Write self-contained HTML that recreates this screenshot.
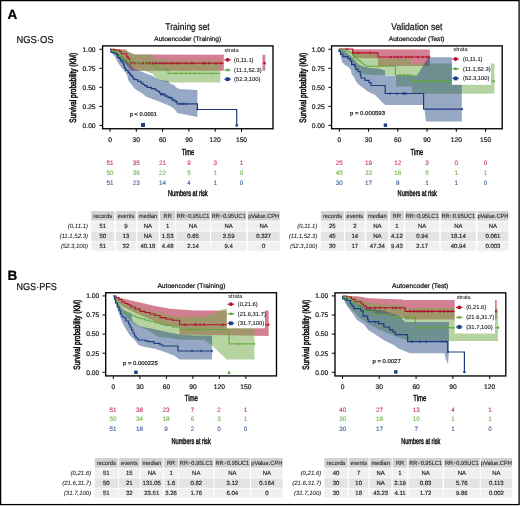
<!DOCTYPE html>
<html><head><meta charset="utf-8"><title>Kaplan-Meier figure</title>
<style>html,body{margin:0;padding:0;background:#fff;width:520px;height:506px;overflow:hidden}
svg text{font-family:"Liberation Sans", sans-serif;text-rendering:geometricPrecision}</style></head>
<body>
<svg width="520" height="506" viewBox="0 0 520 506" style="position:absolute;left:0;top:0;will-change:transform;font-family:'Liberation Sans', sans-serif">
<rect x="0" y="0" width="520" height="506" fill="#fff"/>
<text x="7.6" y="18.7" font-size="13.5" fill="#000" stroke="#000" stroke-width="0.22" text-anchor="start"  style="font-weight:bold">A</text>
<text x="16.5" y="43" font-size="10" fill="#111" stroke="#111" stroke-width="0.22" text-anchor="start" textLength="37" lengthAdjust="spacingAndGlyphs"  style="">NGS·OS</text>
<text x="7.6" y="279.8" font-size="13.5" fill="#000" stroke="#000" stroke-width="0.22" text-anchor="start"  style="font-weight:bold">B</text>
<text x="16.5" y="290" font-size="10" fill="#111" stroke="#111" stroke-width="0.22" text-anchor="start" textLength="40.3" lengthAdjust="spacingAndGlyphs"  style="">NGS·PFS</text>
<text x="187.5" y="29.9" font-size="9.7" fill="#111" stroke="#111" stroke-width="0.22" text-anchor="middle" textLength="44.3" lengthAdjust="spacingAndGlyphs"  style="">Training set</text>
<text x="154.3" y="41.2" font-size="6.5" fill="#111" stroke="#111" stroke-width="0.22" text-anchor="start" textLength="66.8" lengthAdjust="spacingAndGlyphs"  style="">Autoencoder (Training)</text>
<polygon points="110,49.3 126,49.5 128,52 135,54.6 265.3,54.7 265.3,70.8 131,70.8 129,68 125,63 120,57 115,52" fill="#A50123" fill-opacity="0.5"/>
<polygon points="110,49.3 118,49.5 125,50 127.4,51 131.2,53.8 135,54.6 152.8,54.7 152.8,59.5 168,59.5 168,61 220.3,61 220.3,82.6 168,82.6 158,79.7 155,76.8 153,74 145,71 137,70.8 135,68 130,66 126,64 122,61 118,57 114,53" fill="#6DA945" fill-opacity="0.5"/>
<polygon points="110,49.3 116.6,51.5 119.7,54.6 123.5,58.5 127.4,61.5 131.2,65.4 135,69.2 138.9,70.8 142.8,71.9 146.6,73.8 152,75.4 154,76.8 159,79.7 168,81 170,83.6 174,85 177,88 180,89 197.4,90 197.4,117 185,114.5 177,112.9 176,111 174,108.7 170,106 165,104 159,101.5 153,99.3 146.2,96.7 142,93.3 137.7,90.8 134.3,88.2 131.8,84.8 129.2,81.4 128.2,80 127.5,76.2 126,73.1 123,69.2 119.9,65.4 117.6,62.3 115.2,56.9 112.5,53.8" fill="#163E7A" fill-opacity="0.45"/>
<path d="M110,49.4 H115 V50 H119.7 V51.5 H121.2 V53.8 H126.6 V56.9 H128.2 V58.5 H129.7 V61.5 H132.8 V63.2 H265.5" fill="none" stroke="#B4102E" stroke-width="1.1" />
<path d="M110,49.4 H112 V50.8 H114.3 V52 H117.4 V53.1 H119 V54.5 H120.5 V56.2 H122.8 V58.5 H125.8 V60 H129.7 V61.5 H132.8 V63.2 H152.3 V65 H155 V66.8 H157 V69.2 H168 V73.4 H220.3" fill="none" stroke="#5FA83A" stroke-width="1.0" />
<path d="M110,49.4 H111 V52.3 H114 V53.5 H116.6 V54.6 H117.5 V57.7 H119.5 V59 H120.5 V60.8 H122 V62 H122.8 V63.1 H123.5 V65 H124.3 V66.9 H125 V68.5 H125.8 V70.4 H128.2 V72.3 H129.5 V73.8 H130.5 V75.4 H132 V77.2 H133.5 V79.2 H135.2 V79.7 H137.7 V81.4 H141.1 V83.1 H143 V84.5 H144.5 V85.7 H147.1 V87.4 H151.3 V88.6 H154.7 V89.1 H156 V90.5 H158.1 V91.6 H159.5 V93 H160.7 V94.2 H165 V96 H168 V97.6 H172 V100 H175 V101.5 H177 V103.9 H197.4 V109.5 H236.7 V125.6" fill="none" stroke="#1E3C82" stroke-width="1.2" />
<rect x="130.35" y="62.0" width="1.3" height="2.4" fill="#B4102E"/>
<rect x="134.35" y="62.0" width="1.3" height="2.4" fill="#B4102E"/>
<rect x="139.35" y="62.0" width="1.3" height="2.4" fill="#B4102E"/>
<rect x="142.35" y="62.0" width="1.3" height="2.4" fill="#B4102E"/>
<rect x="146.35" y="62.0" width="1.3" height="2.4" fill="#B4102E"/>
<rect x="149.35" y="62.0" width="1.3" height="2.4" fill="#B4102E"/>
<rect x="152.35" y="62.0" width="1.3" height="2.4" fill="#B4102E"/>
<rect x="155.35" y="62.0" width="1.3" height="2.4" fill="#B4102E"/>
<rect x="159.35" y="62.0" width="1.3" height="2.4" fill="#B4102E"/>
<rect x="162.35" y="62.0" width="1.3" height="2.4" fill="#B4102E"/>
<rect x="165.35" y="62.0" width="1.3" height="2.4" fill="#B4102E"/>
<rect x="169.35" y="62.0" width="1.3" height="2.4" fill="#B4102E"/>
<rect x="172.35" y="62.0" width="1.3" height="2.4" fill="#B4102E"/>
<rect x="176.35" y="62.0" width="1.3" height="2.4" fill="#B4102E"/>
<rect x="179.35" y="62.0" width="1.3" height="2.4" fill="#B4102E"/>
<rect x="185.35" y="62.0" width="1.3" height="2.4" fill="#B4102E"/>
<rect x="190.35" y="62.0" width="1.3" height="2.4" fill="#B4102E"/>
<rect x="192.35" y="62.0" width="1.3" height="2.4" fill="#B4102E"/>
<rect x="202.35" y="62.0" width="1.3" height="2.4" fill="#B4102E"/>
<rect x="204.35" y="62.0" width="1.3" height="2.4" fill="#B4102E"/>
<rect x="208.35" y="62.0" width="1.3" height="2.4" fill="#B4102E"/>
<rect x="215.35" y="62.0" width="1.3" height="2.4" fill="#B4102E"/>
<rect x="220.35" y="62.0" width="1.3" height="2.4" fill="#B4102E"/>
<rect x="264.35" y="62.0" width="1.3" height="2.4" fill="#B4102E"/>
<rect x="175.4" y="72.5" width="1.2" height="1.8" fill="#5FA83A"/>
<rect x="180.4" y="72.5" width="1.2" height="1.8" fill="#5FA83A"/>
<rect x="185.4" y="72.5" width="1.2" height="1.8" fill="#5FA83A"/>
<rect x="189.4" y="72.5" width="1.2" height="1.8" fill="#5FA83A"/>
<rect x="194.4" y="72.5" width="1.2" height="1.8" fill="#5FA83A"/>
<rect x="199.4" y="72.5" width="1.2" height="1.8" fill="#5FA83A"/>
<rect x="212.4" y="72.5" width="1.2" height="1.8" fill="#5FA83A"/>
<rect x="135.35" y="62.0" width="1.3" height="2.4" fill="#5FA83A"/>
<rect x="139.35" y="62.0" width="1.3" height="2.4" fill="#5FA83A"/>
<rect x="144.35" y="62.0" width="1.3" height="2.4" fill="#5FA83A"/>
<rect x="160.35" y="93.1" width="1.3" height="2.4" fill="#1E3C82"/>
<rect x="162.35" y="93.1" width="1.3" height="2.4" fill="#1E3C82"/>
<rect x="165.35" y="94.8" width="1.3" height="2.4" fill="#1E3C82"/>
<rect x="169.35" y="96.39999999999999" width="1.3" height="2.4" fill="#1E3C82"/>
<rect x="172.35" y="98.8" width="1.3" height="2.4" fill="#1E3C82"/>
<rect x="175.35" y="100.3" width="1.3" height="2.4" fill="#1E3C82"/>
<rect x="179.35" y="102.7" width="1.3" height="2.4" fill="#1E3C82"/>
<rect x="182.35" y="102.7" width="1.3" height="2.4" fill="#1E3C82"/>
<rect x="185.35" y="102.7" width="1.3" height="2.4" fill="#1E3C82"/>
<circle cx="236.7" cy="125.4" r="1.3" fill="#1E3C82"/><circle cx="197.4" cy="109.5" r="1.1" fill="#1E3C82"/>
<rect x="223.8" y="47" width="38.69999999999999" height="38" fill="#fff"/>
<text x="224.5" y="52.2" font-size="5.6" fill="#222" stroke="#222"  text-anchor="start" stroke-width="0.05" style="">strata</text>
<line x1="224.29999999999998" y1="59.8" x2="230.9" y2="59.8" stroke="#B4102E" stroke-width="1.1"/>
<circle cx="227.6" cy="59.8" r="1.9" fill="#B4102E"/>
<text x="234" y="61.8" font-size="5.8" fill="#111" stroke="#111"  text-anchor="start" stroke-width="0.1" style="">(0,11.1)</text>
<line x1="224.29999999999998" y1="69.9" x2="230.9" y2="69.9" stroke="#5FA83A" stroke-width="1.1"/>
<polygon points="225.6,71.2 229.6,71.2 227.6,67.9" fill="#5FA83A"/>
<text x="234" y="71.9" font-size="5.8" fill="#111" stroke="#111"  text-anchor="start" stroke-width="0.1" style="">(11.1,52.3)</text>
<line x1="224.29999999999998" y1="79.2" x2="230.9" y2="79.2" stroke="#1E3C82" stroke-width="1.1"/>
<rect x="225.7" y="77.3" width="3.8" height="3.8" fill="#1E3C82"/>
<text x="234" y="81.2" font-size="5.8" fill="#111" stroke="#111"  text-anchor="start" stroke-width="0.1" style="">(52.3,100)</text>
<rect x="141" y="123" width="4" height="4" fill="#1E3C82"/>
<text x="129.8" y="115.8" font-size="5.7" fill="#222" stroke="#222" stroke-width="0.22" text-anchor="start" textLength="27.1" lengthAdjust="spacingAndGlyphs"  style="">p &lt; 0.0001</text>
<rect x="102.6" y="45.9" width="170.4" height="82.85" fill="none" stroke="#000" stroke-width="1.35"/>
<line x1="110.0" y1="128.75" x2="110.0" y2="131.75" stroke="#000" stroke-width="1.0"/>
<text x="110.0" y="141.5" font-size="6.7" fill="#222" stroke="#222" stroke-width="0.22" text-anchor="middle"  style="">0</text>
<line x1="136.301" y1="128.75" x2="136.301" y2="131.75" stroke="#000" stroke-width="1.0"/>
<text x="136.301" y="141.5" font-size="6.7" fill="#222" stroke="#222" stroke-width="0.22" text-anchor="middle"  style="">30</text>
<line x1="162.602" y1="128.75" x2="162.602" y2="131.75" stroke="#000" stroke-width="1.0"/>
<text x="162.602" y="141.5" font-size="6.7" fill="#222" stroke="#222" stroke-width="0.22" text-anchor="middle"  style="">60</text>
<line x1="188.90300000000002" y1="128.75" x2="188.90300000000002" y2="131.75" stroke="#000" stroke-width="1.0"/>
<text x="188.90300000000002" y="141.5" font-size="6.7" fill="#222" stroke="#222" stroke-width="0.22" text-anchor="middle"  style="">90</text>
<line x1="215.204" y1="128.75" x2="215.204" y2="131.75" stroke="#000" stroke-width="1.0"/>
<text x="215.204" y="141.5" font-size="6.7" fill="#222" stroke="#222" stroke-width="0.22" text-anchor="middle"  style="">120</text>
<line x1="241.505" y1="128.75" x2="241.505" y2="131.75" stroke="#000" stroke-width="1.0"/>
<text x="241.505" y="141.5" font-size="6.7" fill="#222" stroke="#222" stroke-width="0.22" text-anchor="middle"  style="">150</text>
<line x1="99.39999999999999" y1="125.4" x2="102.6" y2="125.4" stroke="#000" stroke-width="1.0"/>
<text x="95.6" y="127.75" font-size="6.7" fill="#222" stroke="#222" stroke-width="0.22" text-anchor="end"  style="">0.00</text>
<line x1="99.39999999999999" y1="106.36250000000001" x2="102.6" y2="106.36250000000001" stroke="#000" stroke-width="1.0"/>
<text x="95.6" y="108.7125" font-size="6.7" fill="#222" stroke="#222" stroke-width="0.22" text-anchor="end"  style="">0.25</text>
<line x1="99.39999999999999" y1="87.325" x2="102.6" y2="87.325" stroke="#000" stroke-width="1.0"/>
<text x="95.6" y="89.675" font-size="6.7" fill="#222" stroke="#222" stroke-width="0.22" text-anchor="end"  style="">0.50</text>
<line x1="99.39999999999999" y1="68.2875" x2="102.6" y2="68.2875" stroke="#000" stroke-width="1.0"/>
<text x="95.6" y="70.63749999999999" font-size="6.7" fill="#222" stroke="#222" stroke-width="0.22" text-anchor="end"  style="">0.75</text>
<line x1="99.39999999999999" y1="49.25" x2="102.6" y2="49.25" stroke="#000" stroke-width="1.0"/>
<text x="95.6" y="51.6" font-size="6.7" fill="#222" stroke="#222" stroke-width="0.22" text-anchor="end"  style="">1.00</text>
<text transform="translate(75.6,87.7) rotate(-90)" x="0" y="0" font-size="9.2" fill="#111" stroke="#111" stroke-width="0.55" text-anchor="middle" textLength="69.9" lengthAdjust="spacingAndGlyphs">Survival probability (KM)</text>
<text x="181.7" y="154.8" font-size="8.8" fill="#111" stroke="#111"  text-anchor="start" textLength="12.5" lengthAdjust="spacingAndGlyphs" stroke-width="0.45" style="">Time</text>
<text x="110.0" y="165.2" font-size="6.3" fill="#C8395A" stroke="#C8395A"  text-anchor="middle" stroke-width="0.12" style="">51</text>
<text x="136.301" y="165.2" font-size="6.3" fill="#C8395A" stroke="#C8395A"  text-anchor="middle" stroke-width="0.12" style="">35</text>
<text x="162.602" y="165.2" font-size="6.3" fill="#C8395A" stroke="#C8395A"  text-anchor="middle" stroke-width="0.12" style="">21</text>
<text x="188.90300000000002" y="165.2" font-size="6.3" fill="#C8395A" stroke="#C8395A"  text-anchor="middle" stroke-width="0.12" style="">9</text>
<text x="215.204" y="165.2" font-size="6.3" fill="#C8395A" stroke="#C8395A"  text-anchor="middle" stroke-width="0.12" style="">3</text>
<text x="241.505" y="165.2" font-size="6.3" fill="#C8395A" stroke="#C8395A"  text-anchor="middle" stroke-width="0.12" style="">1</text>
<text x="110.0" y="174.9" font-size="6.3" fill="#72B552" stroke="#72B552"  text-anchor="middle" stroke-width="0.12" style="">50</text>
<text x="136.301" y="174.9" font-size="6.3" fill="#72B552" stroke="#72B552"  text-anchor="middle" stroke-width="0.12" style="">36</text>
<text x="162.602" y="174.9" font-size="6.3" fill="#72B552" stroke="#72B552"  text-anchor="middle" stroke-width="0.12" style="">22</text>
<text x="188.90300000000002" y="174.9" font-size="6.3" fill="#72B552" stroke="#72B552"  text-anchor="middle" stroke-width="0.12" style="">5</text>
<text x="215.204" y="174.9" font-size="6.3" fill="#72B552" stroke="#72B552"  text-anchor="middle" stroke-width="0.12" style="">1</text>
<text x="241.505" y="174.9" font-size="6.3" fill="#72B552" stroke="#72B552"  text-anchor="middle" stroke-width="0.12" style="">0</text>
<text x="110.0" y="184.6" font-size="6.3" fill="#44639F" stroke="#44639F"  text-anchor="middle" stroke-width="0.12" style="">51</text>
<text x="136.301" y="184.6" font-size="6.3" fill="#44639F" stroke="#44639F"  text-anchor="middle" stroke-width="0.12" style="">23</text>
<text x="162.602" y="184.6" font-size="6.3" fill="#44639F" stroke="#44639F"  text-anchor="middle" stroke-width="0.12" style="">14</text>
<text x="188.90300000000002" y="184.6" font-size="6.3" fill="#44639F" stroke="#44639F"  text-anchor="middle" stroke-width="0.12" style="">4</text>
<text x="215.204" y="184.6" font-size="6.3" fill="#44639F" stroke="#44639F"  text-anchor="middle" stroke-width="0.12" style="">1</text>
<text x="241.505" y="184.6" font-size="6.3" fill="#44639F" stroke="#44639F"  text-anchor="middle" stroke-width="0.12" style="">0</text>
<text x="168" y="196.2" font-size="8.4" fill="#111" stroke="#111"  text-anchor="start" textLength="39.7" lengthAdjust="spacingAndGlyphs" stroke-width="0.45" style="">Numbers at risk</text>
<rect x="91.2" y="211.1" width="23.099999999999994" height="9.5" fill="#D2D2D2"/>
<text x="102.75" y="217.79999999999998" font-size="6.0" fill="#1a1a1a" stroke="#1a1a1a"  text-anchor="middle" textLength="18.84" lengthAdjust="spacingAndGlyphs" stroke-width="0.08" style="">records</text>
<rect x="115.8" y="211.1" width="20.299999999999997" height="9.5" fill="#D2D2D2"/>
<text x="125.94999999999999" y="217.79999999999998" font-size="6.0" fill="#1a1a1a" stroke="#1a1a1a"  text-anchor="middle" textLength="16.65" lengthAdjust="spacingAndGlyphs" stroke-width="0.08" style="">events</text>
<rect x="137.3" y="211.1" width="21.299999999999983" height="9.5" fill="#D2D2D2"/>
<text x="147.95" y="217.79999999999998" font-size="6.0" fill="#1a1a1a" stroke="#1a1a1a"  text-anchor="middle" textLength="18.53" lengthAdjust="spacingAndGlyphs" stroke-width="0.08" style="">median</text>
<rect x="160" y="211.1" width="15.300000000000011" height="9.5" fill="#D2D2D2"/>
<text x="167.65" y="217.79999999999998" font-size="6.0" fill="#1a1a1a" stroke="#1a1a1a"  text-anchor="middle" textLength="8.16" lengthAdjust="spacingAndGlyphs" stroke-width="0.08" style="">RR</text>
<rect x="176.2" y="211.1" width="33.80000000000001" height="9.5" fill="#D2D2D2"/>
<text x="193.1" y="217.79999999999998" font-size="6.0" fill="#1a1a1a" stroke="#1a1a1a"  text-anchor="middle" textLength="32.82" lengthAdjust="spacingAndGlyphs" stroke-width="0.08" style="">RR−0.95LC1</text>
<rect x="211.1" y="211.1" width="35.099999999999994" height="9.5" fill="#D2D2D2"/>
<text x="228.64999999999998" y="217.79999999999998" font-size="6.0" fill="#1a1a1a" stroke="#1a1a1a"  text-anchor="middle" textLength="33.76" lengthAdjust="spacingAndGlyphs" stroke-width="0.08" style="">RR−0.95UC1</text>
<rect x="247.7" y="211.1" width="32.0" height="9.5" fill="#D2D2D2"/>
<text x="263.7" y="217.79999999999998" font-size="6.0" fill="#1a1a1a" stroke="#1a1a1a"  text-anchor="middle" textLength="31.09" lengthAdjust="spacingAndGlyphs" stroke-width="0.08" style="">pValue.CPH</text>
<rect x="91.2" y="221.4" width="23.099999999999994" height="9.400000000000006" fill="#F0F0F0"/>
<text x="102.75" y="227.9" font-size="6.0" fill="#1a1a1a" stroke="#1a1a1a"  text-anchor="middle" stroke-width="0.15" style="">51</text>
<rect x="115.8" y="221.4" width="20.299999999999997" height="9.400000000000006" fill="#F0F0F0"/>
<text x="125.94999999999999" y="227.9" font-size="6.0" fill="#1a1a1a" stroke="#1a1a1a"  text-anchor="middle" stroke-width="0.15" style="">9</text>
<rect x="137.3" y="221.4" width="21.299999999999983" height="9.400000000000006" fill="#F0F0F0"/>
<text x="147.95" y="227.9" font-size="6.0" fill="#1a1a1a" stroke="#1a1a1a"  text-anchor="middle" stroke-width="0.15" style="">NA</text>
<rect x="160" y="221.4" width="15.300000000000011" height="9.400000000000006" fill="#F0F0F0"/>
<text x="167.65" y="227.9" font-size="6.0" fill="#1a1a1a" stroke="#1a1a1a"  text-anchor="middle" stroke-width="0.15" style="">1</text>
<rect x="176.2" y="221.4" width="33.80000000000001" height="9.400000000000006" fill="#F0F0F0"/>
<text x="193.1" y="227.9" font-size="6.0" fill="#1a1a1a" stroke="#1a1a1a"  text-anchor="middle" stroke-width="0.15" style="">NA</text>
<rect x="211.1" y="221.4" width="35.099999999999994" height="9.400000000000006" fill="#F0F0F0"/>
<text x="228.64999999999998" y="227.9" font-size="6.0" fill="#1a1a1a" stroke="#1a1a1a"  text-anchor="middle" stroke-width="0.15" style="">NA</text>
<rect x="247.7" y="221.4" width="32.0" height="9.400000000000006" fill="#F0F0F0"/>
<text x="263.7" y="227.9" font-size="6.0" fill="#1a1a1a" stroke="#1a1a1a"  text-anchor="middle" stroke-width="0.15" style="">NA</text>
<text x="88" y="227.9" font-size="6.0" fill="#1a1a1a" stroke="#1a1a1a"  text-anchor="end" stroke-width="0.05" style="font-style:italic">(0,11.1)</text>
<rect x="91.2" y="231.6" width="23.099999999999994" height="9.400000000000006" fill="#E3E3E3"/>
<text x="102.75" y="238.1" font-size="6.0" fill="#1a1a1a" stroke="#1a1a1a"  text-anchor="middle" stroke-width="0.15" style="">50</text>
<rect x="115.8" y="231.6" width="20.299999999999997" height="9.400000000000006" fill="#E3E3E3"/>
<text x="125.94999999999999" y="238.1" font-size="6.0" fill="#1a1a1a" stroke="#1a1a1a"  text-anchor="middle" stroke-width="0.15" style="">13</text>
<rect x="137.3" y="231.6" width="21.299999999999983" height="9.400000000000006" fill="#E3E3E3"/>
<text x="147.95" y="238.1" font-size="6.0" fill="#1a1a1a" stroke="#1a1a1a"  text-anchor="middle" stroke-width="0.15" style="">NA</text>
<rect x="160" y="231.6" width="15.300000000000011" height="9.400000000000006" fill="#E3E3E3"/>
<text x="167.65" y="238.1" font-size="6.0" fill="#1a1a1a" stroke="#1a1a1a"  text-anchor="middle" stroke-width="0.15" style="">1.53</text>
<rect x="176.2" y="231.6" width="33.80000000000001" height="9.400000000000006" fill="#E3E3E3"/>
<text x="193.1" y="238.1" font-size="6.0" fill="#1a1a1a" stroke="#1a1a1a"  text-anchor="middle" stroke-width="0.15" style="">0.65</text>
<rect x="211.1" y="231.6" width="35.099999999999994" height="9.400000000000006" fill="#E3E3E3"/>
<text x="228.64999999999998" y="238.1" font-size="6.0" fill="#1a1a1a" stroke="#1a1a1a"  text-anchor="middle" stroke-width="0.15" style="">3.59</text>
<rect x="247.7" y="231.6" width="32.0" height="9.400000000000006" fill="#E3E3E3"/>
<text x="263.7" y="238.1" font-size="6.0" fill="#1a1a1a" stroke="#1a1a1a"  text-anchor="middle" stroke-width="0.15" style="">0.327</text>
<text x="88" y="238.1" font-size="6.0" fill="#1a1a1a" stroke="#1a1a1a"  text-anchor="end" stroke-width="0.05" style="font-style:italic">(11.1,52.3)</text>
<rect x="91.2" y="241.6" width="23.099999999999994" height="9.300000000000011" fill="#F0F0F0"/>
<text x="102.75" y="248.0" font-size="6.0" fill="#1a1a1a" stroke="#1a1a1a"  text-anchor="middle" stroke-width="0.15" style="">51</text>
<rect x="115.8" y="241.6" width="20.299999999999997" height="9.300000000000011" fill="#F0F0F0"/>
<text x="125.94999999999999" y="248.0" font-size="6.0" fill="#1a1a1a" stroke="#1a1a1a"  text-anchor="middle" stroke-width="0.15" style="">32</text>
<rect x="137.3" y="241.6" width="21.299999999999983" height="9.300000000000011" fill="#F0F0F0"/>
<text x="147.95" y="248.0" font-size="6.0" fill="#1a1a1a" stroke="#1a1a1a"  text-anchor="middle" stroke-width="0.15" style="">40.18</text>
<rect x="160" y="241.6" width="15.300000000000011" height="9.300000000000011" fill="#F0F0F0"/>
<text x="167.65" y="248.0" font-size="6.0" fill="#1a1a1a" stroke="#1a1a1a"  text-anchor="middle" stroke-width="0.15" style="">4.48</text>
<rect x="176.2" y="241.6" width="33.80000000000001" height="9.300000000000011" fill="#F0F0F0"/>
<text x="193.1" y="248.0" font-size="6.0" fill="#1a1a1a" stroke="#1a1a1a"  text-anchor="middle" stroke-width="0.15" style="">2.14</text>
<rect x="211.1" y="241.6" width="35.099999999999994" height="9.300000000000011" fill="#F0F0F0"/>
<text x="228.64999999999998" y="248.0" font-size="6.0" fill="#1a1a1a" stroke="#1a1a1a"  text-anchor="middle" stroke-width="0.15" style="">9.4</text>
<rect x="247.7" y="241.6" width="32.0" height="9.300000000000011" fill="#F0F0F0"/>
<text x="263.7" y="248.0" font-size="6.0" fill="#1a1a1a" stroke="#1a1a1a"  text-anchor="middle" stroke-width="0.15" style="">0</text>
<text x="88" y="248.0" font-size="6.0" fill="#1a1a1a" stroke="#1a1a1a"  text-anchor="end" stroke-width="0.05" style="font-style:italic">(52.3,100)</text>
<text x="416.9" y="29.9" font-size="9.7" fill="#111" stroke="#111" stroke-width="0.22" text-anchor="middle" textLength="51.2" lengthAdjust="spacingAndGlyphs"  style="">Validation set</text>
<text x="388.75" y="41.2" font-size="6.5" fill="#111" stroke="#111" stroke-width="0.22" text-anchor="start" textLength="55.7" lengthAdjust="spacingAndGlyphs"  style="">Autoencoder (Test)</text>
<polygon points="339,49.2 352.7,49.2 429.8,49.5 429.8,65.9 378,65.9 378,58.2 352.7,58.2 352.7,50 339,49.6" fill="#A50123" fill-opacity="0.5"/>
<polygon points="339,49.2 345,49.5 349,50 355,50.5 357,53.5 378,54 380,58.4 411,58.4 411,63.6 494.4,63.6 494.4,93.7 412,93.7 412,86.6 396,86.6 396,75.1 385,75.1 370,74.8 362,74 358,71.7 356,69.3 355,67 352,64.6 350.4,61 348,58.6 343,56.6 341,52" fill="#6DA945" fill-opacity="0.5"/>
<polygon points="339,49.2 341,49.5 344,51 347,53 350.8,55.9 355,60.5 358.7,64.6 363,66.5 370,68 378,68.5 385,70.5 385,75.5 417,75.5 428.4,57.2 461.8,57.2 461.8,121.4 426,121.4 424,105 385,105 377.5,97.5 375,95 367.5,91.25 362,87 357.9,84 355.6,80.4 354,77.2 351.6,74 350.8,70.1 349.2,67.7 345.3,65.3 342.1,62.2 340.5,55.9" fill="#163E7A" fill-opacity="0.45"/>
<path d="M339,49 H352.7 V52.9 H378 V57 H429.8" fill="none" stroke="#B4102E" stroke-width="1.1" />
<path d="M339,49.1 H342 V50 H345.3 V51.1 H348.4 V52 H350.4 V53.1 H352.4 V55.1 H354.8 V57.4 H356.3 V59.4 H358.7 V61 H361.1 V63 H363.5 V64.9 H365.8 V66.2 H395.5 V75.2 H412 V81.2 H494" fill="none" stroke="#5FA83A" stroke-width="1.0" />
<path d="M339,49.1 V51.5 H340.5 V54.3 H342.9 V56.6 H348 V58.6 H350.4 V61 H351.6 V64.6 H354.8 V66.9 H355.6 V69.3 H357.9 V71.7 H360.3 V75.2 H361.1 V78 H365 V80.4 H369 V82.7 H371 V85.5 H385.2 V93.5 H423.6 V109.2 H462" fill="none" stroke="#1E3C82" stroke-width="1.2" />
<rect x="390.35" y="55.8" width="1.3" height="2.4" fill="#B4102E"/>
<rect x="394.35" y="55.8" width="1.3" height="2.4" fill="#B4102E"/>
<rect x="397.35" y="55.8" width="1.3" height="2.4" fill="#B4102E"/>
<rect x="400.35" y="55.8" width="1.3" height="2.4" fill="#B4102E"/>
<rect x="405.35" y="55.8" width="1.3" height="2.4" fill="#B4102E"/>
<rect x="408.35" y="55.8" width="1.3" height="2.4" fill="#B4102E"/>
<rect x="411.35" y="55.8" width="1.3" height="2.4" fill="#B4102E"/>
<rect x="417.35" y="55.8" width="1.3" height="2.4" fill="#B4102E"/>
<rect x="422.35" y="55.8" width="1.3" height="2.4" fill="#B4102E"/>
<rect x="426.35" y="55.8" width="1.3" height="2.4" fill="#B4102E"/>
<rect x="428.85" y="55.8" width="1.3" height="2.4" fill="#B4102E"/>
<rect x="346.35" y="47.8" width="1.3" height="2.4" fill="#B4102E"/>
<rect x="352.05" y="51.699999999999996" width="1.3" height="2.4" fill="#B4102E"/>
<rect x="357.35" y="51.699999999999996" width="1.3" height="2.4" fill="#B4102E"/>
<rect x="369.35" y="51.699999999999996" width="1.3" height="2.4" fill="#B4102E"/>
<rect x="414.35" y="80.0" width="1.3" height="2.4" fill="#5FA83A"/>
<rect x="419.35" y="80.0" width="1.3" height="2.4" fill="#5FA83A"/>
<rect x="424.35" y="80.0" width="1.3" height="2.4" fill="#5FA83A"/>
<rect x="429.35" y="80.0" width="1.3" height="2.4" fill="#5FA83A"/>
<rect x="434.35" y="80.0" width="1.3" height="2.4" fill="#5FA83A"/>
<rect x="439.35" y="80.0" width="1.3" height="2.4" fill="#5FA83A"/>
<rect x="444.35" y="80.0" width="1.3" height="2.4" fill="#5FA83A"/>
<rect x="449.35" y="80.0" width="1.3" height="2.4" fill="#5FA83A"/>
<rect x="493.35" y="80.0" width="1.3" height="2.4" fill="#5FA83A"/>
<rect x="399.35" y="74.0" width="1.3" height="2.4" fill="#5FA83A"/>
<rect x="403.35" y="74.0" width="1.3" height="2.4" fill="#5FA83A"/>
<rect x="407.35" y="74.0" width="1.3" height="2.4" fill="#5FA83A"/>
<rect x="389.35" y="92.3" width="1.3" height="2.4" fill="#1E3C82"/>
<rect x="396.35" y="92.3" width="1.3" height="2.4" fill="#1E3C82"/>
<rect x="402.35" y="92.3" width="1.3" height="2.4" fill="#1E3C82"/>
<rect x="403.85" y="92.3" width="1.3" height="2.4" fill="#1E3C82"/>
<rect x="405.35" y="92.3" width="1.3" height="2.4" fill="#1E3C82"/>
<circle cx="462" cy="109.2" r="1.1" fill="#1E3C82"/>
<rect x="451.9" y="47" width="39.10000000000002" height="37.8" fill="#fff"/>
<text x="453.5" y="51.1" font-size="5.6" fill="#222" stroke="#222"  text-anchor="start" stroke-width="0.05" style="">strata</text>
<line x1="452.3" y1="59" x2="458.90000000000003" y2="59" stroke="#B4102E" stroke-width="1.1"/>
<circle cx="455.6" cy="59" r="1.9" fill="#B4102E"/>
<text x="463" y="61.0" font-size="5.8" fill="#111" stroke="#111"  text-anchor="start" stroke-width="0.1" style="">(0,11.1)</text>
<line x1="452.3" y1="68.7" x2="458.90000000000003" y2="68.7" stroke="#5FA83A" stroke-width="1.1"/>
<polygon points="453.6,70.0 457.6,70.0 455.6,66.7" fill="#5FA83A"/>
<text x="463" y="70.7" font-size="5.8" fill="#111" stroke="#111"  text-anchor="start" stroke-width="0.1" style="">(11.1,52.3)</text>
<line x1="452.3" y1="78.4" x2="458.90000000000003" y2="78.4" stroke="#1E3C82" stroke-width="1.1"/>
<rect x="453.70000000000005" y="76.5" width="3.8" height="3.8" fill="#1E3C82"/>
<text x="463" y="80.4" font-size="5.8" fill="#111" stroke="#111"  text-anchor="start" stroke-width="0.1" style="">(52.3,100)</text>
<rect x="383.7" y="123.5" width="3.4" height="3.4" fill="#1E3C82"/>
<text x="350" y="115.2" font-size="5.7" fill="#222" stroke="#222" stroke-width="0.22" text-anchor="start" textLength="35" lengthAdjust="spacingAndGlyphs"  style="">p = 0.000593</text>
<rect x="331.6" y="45.9" width="170.59999999999997" height="82.85" fill="none" stroke="#000" stroke-width="1.35"/>
<line x1="339.3" y1="128.75" x2="339.3" y2="131.75" stroke="#000" stroke-width="1.0"/>
<text x="339.3" y="141.5" font-size="6.7" fill="#222" stroke="#222" stroke-width="0.22" text-anchor="middle"  style="">0</text>
<line x1="368.55" y1="128.75" x2="368.55" y2="131.75" stroke="#000" stroke-width="1.0"/>
<text x="368.55" y="141.5" font-size="6.7" fill="#222" stroke="#222" stroke-width="0.22" text-anchor="middle"  style="">30</text>
<line x1="397.8" y1="128.75" x2="397.8" y2="131.75" stroke="#000" stroke-width="1.0"/>
<text x="397.8" y="141.5" font-size="6.7" fill="#222" stroke="#222" stroke-width="0.22" text-anchor="middle"  style="">60</text>
<line x1="427.05" y1="128.75" x2="427.05" y2="131.75" stroke="#000" stroke-width="1.0"/>
<text x="427.05" y="141.5" font-size="6.7" fill="#222" stroke="#222" stroke-width="0.22" text-anchor="middle"  style="">90</text>
<line x1="456.3" y1="128.75" x2="456.3" y2="131.75" stroke="#000" stroke-width="1.0"/>
<text x="456.3" y="141.5" font-size="6.7" fill="#222" stroke="#222" stroke-width="0.22" text-anchor="middle"  style="">120</text>
<line x1="485.55" y1="128.75" x2="485.55" y2="131.75" stroke="#000" stroke-width="1.0"/>
<text x="485.55" y="141.5" font-size="6.7" fill="#222" stroke="#222" stroke-width="0.22" text-anchor="middle"  style="">150</text>
<line x1="328.40000000000003" y1="125.4" x2="331.6" y2="125.4" stroke="#000" stroke-width="1.0"/>
<text x="324.8" y="127.75" font-size="6.7" fill="#222" stroke="#222" stroke-width="0.22" text-anchor="end"  style="">0.00</text>
<line x1="328.40000000000003" y1="106.36250000000001" x2="331.6" y2="106.36250000000001" stroke="#000" stroke-width="1.0"/>
<text x="324.8" y="108.7125" font-size="6.7" fill="#222" stroke="#222" stroke-width="0.22" text-anchor="end"  style="">0.25</text>
<line x1="328.40000000000003" y1="87.325" x2="331.6" y2="87.325" stroke="#000" stroke-width="1.0"/>
<text x="324.8" y="89.675" font-size="6.7" fill="#222" stroke="#222" stroke-width="0.22" text-anchor="end"  style="">0.50</text>
<line x1="328.40000000000003" y1="68.2875" x2="331.6" y2="68.2875" stroke="#000" stroke-width="1.0"/>
<text x="324.8" y="70.63749999999999" font-size="6.7" fill="#222" stroke="#222" stroke-width="0.22" text-anchor="end"  style="">0.75</text>
<line x1="328.40000000000003" y1="49.25" x2="331.6" y2="49.25" stroke="#000" stroke-width="1.0"/>
<text x="324.8" y="51.6" font-size="6.7" fill="#222" stroke="#222" stroke-width="0.22" text-anchor="end"  style="">1.00</text>
<text transform="translate(305.8,87.7) rotate(-90)" x="0" y="0" font-size="9.2" fill="#111" stroke="#111" stroke-width="0.55" text-anchor="middle" textLength="69.9" lengthAdjust="spacingAndGlyphs">Survival probability (KM)</text>
<text x="410.6" y="154.8" font-size="8.8" fill="#111" stroke="#111"  text-anchor="start" textLength="12.5" lengthAdjust="spacingAndGlyphs" stroke-width="0.45" style="">Time</text>
<text x="339.3" y="165.2" font-size="6.3" fill="#C8395A" stroke="#C8395A"  text-anchor="middle" stroke-width="0.12" style="">25</text>
<text x="368.55" y="165.2" font-size="6.3" fill="#C8395A" stroke="#C8395A"  text-anchor="middle" stroke-width="0.12" style="">19</text>
<text x="397.8" y="165.2" font-size="6.3" fill="#C8395A" stroke="#C8395A"  text-anchor="middle" stroke-width="0.12" style="">12</text>
<text x="427.05" y="165.2" font-size="6.3" fill="#C8395A" stroke="#C8395A"  text-anchor="middle" stroke-width="0.12" style="">3</text>
<text x="456.3" y="165.2" font-size="6.3" fill="#C8395A" stroke="#C8395A"  text-anchor="middle" stroke-width="0.12" style="">0</text>
<text x="485.55" y="165.2" font-size="6.3" fill="#C8395A" stroke="#C8395A"  text-anchor="middle" stroke-width="0.12" style="">0</text>
<text x="339.3" y="174.9" font-size="6.3" fill="#72B552" stroke="#72B552"  text-anchor="middle" stroke-width="0.12" style="">45</text>
<text x="368.55" y="174.9" font-size="6.3" fill="#72B552" stroke="#72B552"  text-anchor="middle" stroke-width="0.12" style="">33</text>
<text x="397.8" y="174.9" font-size="6.3" fill="#72B552" stroke="#72B552"  text-anchor="middle" stroke-width="0.12" style="">16</text>
<text x="427.05" y="174.9" font-size="6.3" fill="#72B552" stroke="#72B552"  text-anchor="middle" stroke-width="0.12" style="">5</text>
<text x="456.3" y="174.9" font-size="6.3" fill="#72B552" stroke="#72B552"  text-anchor="middle" stroke-width="0.12" style="">1</text>
<text x="485.55" y="174.9" font-size="6.3" fill="#72B552" stroke="#72B552"  text-anchor="middle" stroke-width="0.12" style="">1</text>
<text x="339.3" y="184.6" font-size="6.3" fill="#44639F" stroke="#44639F"  text-anchor="middle" stroke-width="0.12" style="">30</text>
<text x="368.55" y="184.6" font-size="6.3" fill="#44639F" stroke="#44639F"  text-anchor="middle" stroke-width="0.12" style="">17</text>
<text x="397.8" y="184.6" font-size="6.3" fill="#44639F" stroke="#44639F"  text-anchor="middle" stroke-width="0.12" style="">8</text>
<text x="427.05" y="184.6" font-size="6.3" fill="#44639F" stroke="#44639F"  text-anchor="middle" stroke-width="0.12" style="">1</text>
<text x="456.3" y="184.6" font-size="6.3" fill="#44639F" stroke="#44639F"  text-anchor="middle" stroke-width="0.12" style="">1</text>
<text x="485.55" y="184.6" font-size="6.3" fill="#44639F" stroke="#44639F"  text-anchor="middle" stroke-width="0.12" style="">0</text>
<text x="397.6" y="196.2" font-size="8.4" fill="#111" stroke="#111"  text-anchor="start" textLength="39.2" lengthAdjust="spacingAndGlyphs" stroke-width="0.45" style="">Numbers at risk</text>
<rect x="320.8" y="211.1" width="23.099999999999966" height="9.5" fill="#D2D2D2"/>
<text x="332.35" y="217.79999999999998" font-size="6.0" fill="#1a1a1a" stroke="#1a1a1a"  text-anchor="middle" textLength="18.84" lengthAdjust="spacingAndGlyphs" stroke-width="0.08" style="">records</text>
<rect x="345" y="211.1" width="19.69999999999999" height="9.5" fill="#D2D2D2"/>
<text x="354.85" y="217.79999999999998" font-size="6.0" fill="#1a1a1a" stroke="#1a1a1a"  text-anchor="middle" textLength="16.65" lengthAdjust="spacingAndGlyphs" stroke-width="0.08" style="">events</text>
<rect x="366.3" y="211.1" width="22.099999999999966" height="9.5" fill="#D2D2D2"/>
<text x="377.35" y="217.79999999999998" font-size="6.0" fill="#1a1a1a" stroke="#1a1a1a"  text-anchor="middle" textLength="18.53" lengthAdjust="spacingAndGlyphs" stroke-width="0.08" style="">median</text>
<rect x="390" y="211.1" width="13.899999999999977" height="9.5" fill="#D2D2D2"/>
<text x="396.95" y="217.79999999999998" font-size="6.0" fill="#1a1a1a" stroke="#1a1a1a"  text-anchor="middle" textLength="8.16" lengthAdjust="spacingAndGlyphs" stroke-width="0.08" style="">RR</text>
<rect x="405" y="211.1" width="34.30000000000001" height="9.5" fill="#D2D2D2"/>
<text x="422.15" y="217.79999999999998" font-size="6.0" fill="#1a1a1a" stroke="#1a1a1a"  text-anchor="middle" textLength="32.82" lengthAdjust="spacingAndGlyphs" stroke-width="0.08" style="">RR−0.95LC1</text>
<rect x="440.9" y="211.1" width="34.80000000000001" height="9.5" fill="#D2D2D2"/>
<text x="458.29999999999995" y="217.79999999999998" font-size="6.0" fill="#1a1a1a" stroke="#1a1a1a"  text-anchor="middle" textLength="33.76" lengthAdjust="spacingAndGlyphs" stroke-width="0.08" style="">RR−0.95UC1</text>
<rect x="477.4" y="211.1" width="31.100000000000023" height="9.5" fill="#D2D2D2"/>
<text x="492.95" y="217.79999999999998" font-size="6.0" fill="#1a1a1a" stroke="#1a1a1a"  text-anchor="middle" textLength="31.09" lengthAdjust="spacingAndGlyphs" stroke-width="0.08" style="">pValue.CPH</text>
<rect x="320.8" y="221.4" width="23.099999999999966" height="9.400000000000006" fill="#F0F0F0"/>
<text x="332.35" y="227.9" font-size="6.0" fill="#1a1a1a" stroke="#1a1a1a"  text-anchor="middle" stroke-width="0.15" style="">25</text>
<rect x="345" y="221.4" width="19.69999999999999" height="9.400000000000006" fill="#F0F0F0"/>
<text x="354.85" y="227.9" font-size="6.0" fill="#1a1a1a" stroke="#1a1a1a"  text-anchor="middle" stroke-width="0.15" style="">2</text>
<rect x="366.3" y="221.4" width="22.099999999999966" height="9.400000000000006" fill="#F0F0F0"/>
<text x="377.35" y="227.9" font-size="6.0" fill="#1a1a1a" stroke="#1a1a1a"  text-anchor="middle" stroke-width="0.15" style="">NA</text>
<rect x="390" y="221.4" width="13.899999999999977" height="9.400000000000006" fill="#F0F0F0"/>
<text x="396.95" y="227.9" font-size="6.0" fill="#1a1a1a" stroke="#1a1a1a"  text-anchor="middle" stroke-width="0.15" style="">1</text>
<rect x="405" y="221.4" width="34.30000000000001" height="9.400000000000006" fill="#F0F0F0"/>
<text x="422.15" y="227.9" font-size="6.0" fill="#1a1a1a" stroke="#1a1a1a"  text-anchor="middle" stroke-width="0.15" style="">NA</text>
<rect x="440.9" y="221.4" width="34.80000000000001" height="9.400000000000006" fill="#F0F0F0"/>
<text x="458.29999999999995" y="227.9" font-size="6.0" fill="#1a1a1a" stroke="#1a1a1a"  text-anchor="middle" stroke-width="0.15" style="">NA</text>
<rect x="477.4" y="221.4" width="31.100000000000023" height="9.400000000000006" fill="#F0F0F0"/>
<text x="492.95" y="227.9" font-size="6.0" fill="#1a1a1a" stroke="#1a1a1a"  text-anchor="middle" stroke-width="0.15" style="">NA</text>
<text x="317.4" y="227.9" font-size="6.0" fill="#1a1a1a" stroke="#1a1a1a"  text-anchor="end" stroke-width="0.05" style="font-style:italic">(0,11.1)</text>
<rect x="320.8" y="231.6" width="23.099999999999966" height="9.400000000000006" fill="#E3E3E3"/>
<text x="332.35" y="238.1" font-size="6.0" fill="#1a1a1a" stroke="#1a1a1a"  text-anchor="middle" stroke-width="0.15" style="">45</text>
<rect x="345" y="231.6" width="19.69999999999999" height="9.400000000000006" fill="#E3E3E3"/>
<text x="354.85" y="238.1" font-size="6.0" fill="#1a1a1a" stroke="#1a1a1a"  text-anchor="middle" stroke-width="0.15" style="">14</text>
<rect x="366.3" y="231.6" width="22.099999999999966" height="9.400000000000006" fill="#E3E3E3"/>
<text x="377.35" y="238.1" font-size="6.0" fill="#1a1a1a" stroke="#1a1a1a"  text-anchor="middle" stroke-width="0.15" style="">NA</text>
<rect x="390" y="231.6" width="13.899999999999977" height="9.400000000000006" fill="#E3E3E3"/>
<text x="396.95" y="238.1" font-size="6.0" fill="#1a1a1a" stroke="#1a1a1a"  text-anchor="middle" stroke-width="0.15" style="">4.12</text>
<rect x="405" y="231.6" width="34.30000000000001" height="9.400000000000006" fill="#E3E3E3"/>
<text x="422.15" y="238.1" font-size="6.0" fill="#1a1a1a" stroke="#1a1a1a"  text-anchor="middle" stroke-width="0.15" style="">0.94</text>
<rect x="440.9" y="231.6" width="34.80000000000001" height="9.400000000000006" fill="#E3E3E3"/>
<text x="458.29999999999995" y="238.1" font-size="6.0" fill="#1a1a1a" stroke="#1a1a1a"  text-anchor="middle" stroke-width="0.15" style="">18.14</text>
<rect x="477.4" y="231.6" width="31.100000000000023" height="9.400000000000006" fill="#E3E3E3"/>
<text x="492.95" y="238.1" font-size="6.0" fill="#1a1a1a" stroke="#1a1a1a"  text-anchor="middle" stroke-width="0.15" style="">0.061</text>
<text x="317.4" y="238.1" font-size="6.0" fill="#1a1a1a" stroke="#1a1a1a"  text-anchor="end" stroke-width="0.05" style="font-style:italic">(11.1,52.3)</text>
<rect x="320.8" y="241.6" width="23.099999999999966" height="9.300000000000011" fill="#F0F0F0"/>
<text x="332.35" y="248.0" font-size="6.0" fill="#1a1a1a" stroke="#1a1a1a"  text-anchor="middle" stroke-width="0.15" style="">30</text>
<rect x="345" y="241.6" width="19.69999999999999" height="9.300000000000011" fill="#F0F0F0"/>
<text x="354.85" y="248.0" font-size="6.0" fill="#1a1a1a" stroke="#1a1a1a"  text-anchor="middle" stroke-width="0.15" style="">17</text>
<rect x="366.3" y="241.6" width="22.099999999999966" height="9.300000000000011" fill="#F0F0F0"/>
<text x="377.35" y="248.0" font-size="6.0" fill="#1a1a1a" stroke="#1a1a1a"  text-anchor="middle" stroke-width="0.15" style="">47.34</text>
<rect x="390" y="241.6" width="13.899999999999977" height="9.300000000000011" fill="#F0F0F0"/>
<text x="396.95" y="248.0" font-size="6.0" fill="#1a1a1a" stroke="#1a1a1a"  text-anchor="middle" stroke-width="0.15" style="">9.43</text>
<rect x="405" y="241.6" width="34.30000000000001" height="9.300000000000011" fill="#F0F0F0"/>
<text x="422.15" y="248.0" font-size="6.0" fill="#1a1a1a" stroke="#1a1a1a"  text-anchor="middle" stroke-width="0.15" style="">2.17</text>
<rect x="440.9" y="241.6" width="34.80000000000001" height="9.300000000000011" fill="#F0F0F0"/>
<text x="458.29999999999995" y="248.0" font-size="6.0" fill="#1a1a1a" stroke="#1a1a1a"  text-anchor="middle" stroke-width="0.15" style="">40.94</text>
<rect x="477.4" y="241.6" width="31.100000000000023" height="9.300000000000011" fill="#F0F0F0"/>
<text x="492.95" y="248.0" font-size="6.0" fill="#1a1a1a" stroke="#1a1a1a"  text-anchor="middle" stroke-width="0.15" style="">0.003</text>
<text x="317.4" y="248.0" font-size="6.0" fill="#1a1a1a" stroke="#1a1a1a"  text-anchor="end" stroke-width="0.05" style="font-style:italic">(52.3,100)</text>
<text x="157.4" y="287.6" font-size="6.6" fill="#111" stroke="#111" stroke-width="0.22" text-anchor="start" textLength="68" lengthAdjust="spacingAndGlyphs"  style="">Autoencoder (Training)</text>
<polygon points="113.5,296 125,299 140,302.5 155,306 170,308.7 180,309.6 195,310.5 268.6,310.5 268.6,335.9 179.7,334.5 179.7,327 170,326 160,323.8 150,319 140,314.9 130,310.2 122,306 118,302" fill="#A50123" fill-opacity="0.5"/>
<polygon points="113.5,296 120,300 130,304.2 139.7,307.8 149.5,311.4 160.2,313.1 170,315.8 180,316.7 204.6,316.7 227.7,307.8 236,300 254.4,298 254.4,359.4 226.8,359.4 211.7,345.2 204.6,339.8 180,339.8 170,338 158.4,337 149.5,331 137,325.6 131.7,322 125,315 118,305" fill="#6DA945" fill-opacity="0.5"/>
<polygon points="113.5,296 116,299 119.2,304.2 122.8,309.6 128.1,312.2 131,313 132.5,321 137,324.7 140.6,326.5 149.5,328.3 158.4,330 170,332.7 179.7,334.5 195,335.4 212,335.4 212,359.4 195,359.6 179.7,359.4 174.4,355.8 165.5,352.3 154.8,348.7 145,347 138.8,345.2 134.4,339.8 129.9,335.4 126.4,330 122.8,323.8 120.1,316.7 117.5,309.6 115.7,304.2" fill="#163E7A" fill-opacity="0.45"/>
<path d="M113.5,296 H116 V297.5 H119 V299.5 H122 V302 H125 V303.5 H128 V305 H131 V307 H135 V309 H140 V311.4 H145 V312.5 H150 V314 H155 V315.5 H160 V317.6 H166 V319 H172 V320.2 H179.7 V324.7 H268.6" fill="none" stroke="#B4102E" stroke-width="1.1" />
<path d="M113.5,296 H114.5 V299 H116 V302 H117.5 V306 H119.5 V309 H121 V313 H125 V314 H129 V315 H133 V316.1 H136 V317.6 H140 V318.8 H145 V320.2 H150 V321.5 H155 V322.9 H160 V324.3 H165 V325.6 H172 V327 H179.7 V329.5 H229.1 V343.9 H254.4" fill="none" stroke="#5FA83A" stroke-width="1.0" />
<path d="M113.5,296 H114.5 V299 H115.5 V303 H117.5 V307 H119 V310.5 H120.5 V314 H122 V316.5 H124 V318 H126 V321 H128.5 V324 H130 V327 H131.5 V330 H133 V333 H134.5 V336 H136 V338 H137.9 V340 H145 V340.8 H148 V341.6 H154 V343.4 H160 V345 H163 V346 H178 V351 H212" fill="none" stroke="#1E3C82" stroke-width="1.2" />
<rect x="184.35" y="323.5" width="1.3" height="2.4" fill="#B4102E"/>
<rect x="194.35" y="323.5" width="1.3" height="2.4" fill="#B4102E"/>
<rect x="195.35" y="323.5" width="1.3" height="2.4" fill="#B4102E"/>
<rect x="199.35" y="323.5" width="1.3" height="2.4" fill="#B4102E"/>
<rect x="203.35" y="323.5" width="1.3" height="2.4" fill="#B4102E"/>
<rect x="222.35" y="323.5" width="1.3" height="2.4" fill="#B4102E"/>
<rect x="267.95000000000005" y="323.5" width="1.3" height="2.4" fill="#B4102E"/>
<rect x="189.35" y="328.3" width="1.3" height="2.4" fill="#5FA83A"/>
<rect x="194.35" y="328.3" width="1.3" height="2.4" fill="#5FA83A"/>
<rect x="203.35" y="328.3" width="1.3" height="2.4" fill="#5FA83A"/>
<rect x="237.35" y="342.7" width="1.3" height="2.4" fill="#5FA83A"/>
<rect x="253.75" y="342.7" width="1.3" height="2.4" fill="#5FA83A"/>
<rect x="191.35" y="349.8" width="1.3" height="2.4" fill="#1E3C82"/>
<rect x="200.35" y="349.8" width="1.3" height="2.4" fill="#1E3C82"/>
<rect x="211.35" y="349.8" width="1.3" height="2.4" fill="#1E3C82"/>
<polygon points="227.3,374 230.9,374 229.1,370.6" fill="#5FA83A"/>
<rect x="226.8" y="293" width="38.19999999999999" height="35.30000000000001" fill="#fff"/>
<text x="228.3" y="298" font-size="5.6" fill="#222" stroke="#222"  text-anchor="start" stroke-width="0.05" style="">strata</text>
<line x1="227.6" y1="304.2" x2="234.20000000000002" y2="304.2" stroke="#B4102E" stroke-width="1.1"/>
<circle cx="230.9" cy="304.2" r="1.9" fill="#B4102E"/>
<text x="237.8" y="306.2" font-size="5.8" fill="#111" stroke="#111"  text-anchor="start" stroke-width="0.1" style="">(0,21.6)</text>
<line x1="227.6" y1="313.7" x2="234.20000000000002" y2="313.7" stroke="#5FA83A" stroke-width="1.1"/>
<polygon points="228.9,315.0 232.9,315.0 230.9,311.7" fill="#5FA83A"/>
<text x="237.8" y="315.7" font-size="5.8" fill="#111" stroke="#111"  text-anchor="start" stroke-width="0.1" style="">(21.6,31.7)</text>
<line x1="227.6" y1="323.3" x2="234.20000000000002" y2="323.3" stroke="#1E3C82" stroke-width="1.1"/>
<rect x="229.0" y="321.40000000000003" width="3.8" height="3.8" fill="#1E3C82"/>
<text x="237.8" y="325.3" font-size="5.8" fill="#111" stroke="#111"  text-anchor="start" stroke-width="0.1" style="">(31.7,100)</text>
<rect x="134.2" y="370.6" width="3.5" height="3.4" fill="#1E3C82"/>
<text x="123" y="365.2" font-size="5.7" fill="#222" stroke="#222" stroke-width="0.22" text-anchor="start" textLength="34.7" lengthAdjust="spacingAndGlyphs"  style="">p = 0.000225</text>
<rect x="105.7" y="292.75" width="170.8" height="83.14999999999998" fill="none" stroke="#000" stroke-width="1.35"/>
<line x1="113.4" y1="375.9" x2="113.4" y2="378.9" stroke="#000" stroke-width="1.0"/>
<text x="113.4" y="388.5" font-size="6.7" fill="#222" stroke="#222" stroke-width="0.22" text-anchor="middle"  style="">0</text>
<line x1="139.899" y1="375.9" x2="139.899" y2="378.9" stroke="#000" stroke-width="1.0"/>
<text x="139.899" y="388.5" font-size="6.7" fill="#222" stroke="#222" stroke-width="0.22" text-anchor="middle"  style="">30</text>
<line x1="166.398" y1="375.9" x2="166.398" y2="378.9" stroke="#000" stroke-width="1.0"/>
<text x="166.398" y="388.5" font-size="6.7" fill="#222" stroke="#222" stroke-width="0.22" text-anchor="middle"  style="">60</text>
<line x1="192.897" y1="375.9" x2="192.897" y2="378.9" stroke="#000" stroke-width="1.0"/>
<text x="192.897" y="388.5" font-size="6.7" fill="#222" stroke="#222" stroke-width="0.22" text-anchor="middle"  style="">90</text>
<line x1="219.39600000000002" y1="375.9" x2="219.39600000000002" y2="378.9" stroke="#000" stroke-width="1.0"/>
<text x="219.39600000000002" y="388.5" font-size="6.7" fill="#222" stroke="#222" stroke-width="0.22" text-anchor="middle"  style="">120</text>
<line x1="245.895" y1="375.9" x2="245.895" y2="378.9" stroke="#000" stroke-width="1.0"/>
<text x="245.895" y="388.5" font-size="6.7" fill="#222" stroke="#222" stroke-width="0.22" text-anchor="middle"  style="">150</text>
<line x1="102.5" y1="372.3" x2="105.7" y2="372.3" stroke="#000" stroke-width="1.0"/>
<text x="99.2" y="374.65000000000003" font-size="6.7" fill="#222" stroke="#222" stroke-width="0.22" text-anchor="end"  style="">0.00</text>
<line x1="102.5" y1="353.2" x2="105.7" y2="353.2" stroke="#000" stroke-width="1.0"/>
<text x="99.2" y="355.55" font-size="6.7" fill="#222" stroke="#222" stroke-width="0.22" text-anchor="end"  style="">0.25</text>
<line x1="102.5" y1="334.1" x2="105.7" y2="334.1" stroke="#000" stroke-width="1.0"/>
<text x="99.2" y="336.45000000000005" font-size="6.7" fill="#222" stroke="#222" stroke-width="0.22" text-anchor="end"  style="">0.50</text>
<line x1="102.5" y1="315.0" x2="105.7" y2="315.0" stroke="#000" stroke-width="1.0"/>
<text x="99.2" y="317.35" font-size="6.7" fill="#222" stroke="#222" stroke-width="0.22" text-anchor="end"  style="">0.75</text>
<line x1="102.5" y1="295.9" x2="105.7" y2="295.9" stroke="#000" stroke-width="1.0"/>
<text x="99.2" y="298.25" font-size="6.7" fill="#222" stroke="#222" stroke-width="0.22" text-anchor="end"  style="">1.00</text>
<text transform="translate(79.5,334.7) rotate(-90)" x="0" y="0" font-size="9.2" fill="#111" stroke="#111" stroke-width="0.55" text-anchor="middle" textLength="69.9" lengthAdjust="spacingAndGlyphs">Survival probability (KM)</text>
<text x="184.7" y="401.4" font-size="8.8" fill="#111" stroke="#111"  text-anchor="start" textLength="13.1" lengthAdjust="spacingAndGlyphs" stroke-width="0.45" style="">Time</text>
<text x="113.0" y="411.6" font-size="6.3" fill="#C8395A" stroke="#C8395A"  text-anchor="middle" stroke-width="0.12" style="">51</text>
<text x="139.499" y="411.6" font-size="6.3" fill="#C8395A" stroke="#C8395A"  text-anchor="middle" stroke-width="0.12" style="">38</text>
<text x="165.998" y="411.6" font-size="6.3" fill="#C8395A" stroke="#C8395A"  text-anchor="middle" stroke-width="0.12" style="">23</text>
<text x="192.497" y="411.6" font-size="6.3" fill="#C8395A" stroke="#C8395A"  text-anchor="middle" stroke-width="0.12" style="">7</text>
<text x="218.99599999999998" y="411.6" font-size="6.3" fill="#C8395A" stroke="#C8395A"  text-anchor="middle" stroke-width="0.12" style="">2</text>
<text x="245.495" y="411.6" font-size="6.3" fill="#C8395A" stroke="#C8395A"  text-anchor="middle" stroke-width="0.12" style="">1</text>
<text x="113.0" y="421.3" font-size="6.3" fill="#72B552" stroke="#72B552"  text-anchor="middle" stroke-width="0.12" style="">50</text>
<text x="139.499" y="421.3" font-size="6.3" fill="#72B552" stroke="#72B552"  text-anchor="middle" stroke-width="0.12" style="">34</text>
<text x="165.998" y="421.3" font-size="6.3" fill="#72B552" stroke="#72B552"  text-anchor="middle" stroke-width="0.12" style="">18</text>
<text x="192.497" y="421.3" font-size="6.3" fill="#72B552" stroke="#72B552"  text-anchor="middle" stroke-width="0.12" style="">6</text>
<text x="218.99599999999998" y="421.3" font-size="6.3" fill="#72B552" stroke="#72B552"  text-anchor="middle" stroke-width="0.12" style="">3</text>
<text x="245.495" y="421.3" font-size="6.3" fill="#72B552" stroke="#72B552"  text-anchor="middle" stroke-width="0.12" style="">1</text>
<text x="113.0" y="431" font-size="6.3" fill="#44639F" stroke="#44639F"  text-anchor="middle" stroke-width="0.12" style="">51</text>
<text x="139.499" y="431" font-size="6.3" fill="#44639F" stroke="#44639F"  text-anchor="middle" stroke-width="0.12" style="">18</text>
<text x="165.998" y="431" font-size="6.3" fill="#44639F" stroke="#44639F"  text-anchor="middle" stroke-width="0.12" style="">9</text>
<text x="192.497" y="431" font-size="6.3" fill="#44639F" stroke="#44639F"  text-anchor="middle" stroke-width="0.12" style="">2</text>
<text x="218.99599999999998" y="431" font-size="6.3" fill="#44639F" stroke="#44639F"  text-anchor="middle" stroke-width="0.12" style="">0</text>
<text x="245.495" y="431" font-size="6.3" fill="#44639F" stroke="#44639F"  text-anchor="middle" stroke-width="0.12" style="">0</text>
<text x="171.5" y="443.5" font-size="8.4" fill="#111" stroke="#111"  text-anchor="start" textLength="39.2" lengthAdjust="spacingAndGlyphs" stroke-width="0.45" style="">Numbers at risk</text>
<rect x="94.8" y="458" width="23.10000000000001" height="9.600000000000023" fill="#D2D2D2"/>
<text x="106.35" y="464.8" font-size="6.0" fill="#1a1a1a" stroke="#1a1a1a"  text-anchor="middle" textLength="18.84" lengthAdjust="spacingAndGlyphs" stroke-width="0.08" style="">records</text>
<rect x="118.9" y="458" width="20.900000000000006" height="9.600000000000023" fill="#D2D2D2"/>
<text x="129.35000000000002" y="464.8" font-size="6.0" fill="#1a1a1a" stroke="#1a1a1a"  text-anchor="middle" textLength="16.65" lengthAdjust="spacingAndGlyphs" stroke-width="0.08" style="">events</text>
<rect x="140.8" y="458" width="22.0" height="9.600000000000023" fill="#D2D2D2"/>
<text x="151.8" y="464.8" font-size="6.0" fill="#1a1a1a" stroke="#1a1a1a"  text-anchor="middle" textLength="18.53" lengthAdjust="spacingAndGlyphs" stroke-width="0.08" style="">median</text>
<rect x="163.9" y="458" width="14.400000000000006" height="9.600000000000023" fill="#D2D2D2"/>
<text x="171.10000000000002" y="464.8" font-size="6.0" fill="#1a1a1a" stroke="#1a1a1a"  text-anchor="middle" textLength="8.16" lengthAdjust="spacingAndGlyphs" stroke-width="0.08" style="">RR</text>
<rect x="178.9" y="458" width="34.69999999999999" height="9.600000000000023" fill="#D2D2D2"/>
<text x="196.25" y="464.8" font-size="6.0" fill="#1a1a1a" stroke="#1a1a1a"  text-anchor="middle" textLength="32.82" lengthAdjust="spacingAndGlyphs" stroke-width="0.08" style="">RR−0.95LC1</text>
<rect x="214.7" y="458" width="35.30000000000001" height="9.600000000000023" fill="#D2D2D2"/>
<text x="232.35" y="464.8" font-size="6.0" fill="#1a1a1a" stroke="#1a1a1a"  text-anchor="middle" textLength="33.76" lengthAdjust="spacingAndGlyphs" stroke-width="0.08" style="">RR−0.95UC1</text>
<rect x="251" y="458" width="31.69999999999999" height="9.600000000000023" fill="#D2D2D2"/>
<text x="266.85" y="464.8" font-size="6.0" fill="#1a1a1a" stroke="#1a1a1a"  text-anchor="middle" textLength="31.09" lengthAdjust="spacingAndGlyphs" stroke-width="0.08" style="">pValue.CPH</text>
<rect x="94.8" y="468.4" width="23.10000000000001" height="9.200000000000045" fill="#F0F0F0"/>
<text x="106.35" y="474.70000000000005" font-size="6.0" fill="#1a1a1a" stroke="#1a1a1a"  text-anchor="middle" stroke-width="0.15" style="">51</text>
<rect x="118.9" y="468.4" width="20.900000000000006" height="9.200000000000045" fill="#F0F0F0"/>
<text x="129.35000000000002" y="474.70000000000005" font-size="6.0" fill="#1a1a1a" stroke="#1a1a1a"  text-anchor="middle" stroke-width="0.15" style="">15</text>
<rect x="140.8" y="468.4" width="22.0" height="9.200000000000045" fill="#F0F0F0"/>
<text x="151.8" y="474.70000000000005" font-size="6.0" fill="#1a1a1a" stroke="#1a1a1a"  text-anchor="middle" stroke-width="0.15" style="">NA</text>
<rect x="163.9" y="468.4" width="14.400000000000006" height="9.200000000000045" fill="#F0F0F0"/>
<text x="171.10000000000002" y="474.70000000000005" font-size="6.0" fill="#1a1a1a" stroke="#1a1a1a"  text-anchor="middle" stroke-width="0.15" style="">1</text>
<rect x="178.9" y="468.4" width="34.69999999999999" height="9.200000000000045" fill="#F0F0F0"/>
<text x="196.25" y="474.70000000000005" font-size="6.0" fill="#1a1a1a" stroke="#1a1a1a"  text-anchor="middle" stroke-width="0.15" style="">NA</text>
<rect x="214.7" y="468.4" width="35.30000000000001" height="9.200000000000045" fill="#F0F0F0"/>
<text x="232.35" y="474.70000000000005" font-size="6.0" fill="#1a1a1a" stroke="#1a1a1a"  text-anchor="middle" stroke-width="0.15" style="">NA</text>
<rect x="251" y="468.4" width="31.69999999999999" height="9.200000000000045" fill="#F0F0F0"/>
<text x="266.85" y="474.70000000000005" font-size="6.0" fill="#1a1a1a" stroke="#1a1a1a"  text-anchor="middle" stroke-width="0.15" style="">NA</text>
<text x="91.2" y="474.70000000000005" font-size="6.0" fill="#1a1a1a" stroke="#1a1a1a"  text-anchor="end" stroke-width="0.05" style="font-style:italic">(0,21.6)</text>
<rect x="94.8" y="478.3" width="23.10000000000001" height="9.5" fill="#E3E3E3"/>
<text x="106.35" y="484.90000000000003" font-size="6.0" fill="#1a1a1a" stroke="#1a1a1a"  text-anchor="middle" stroke-width="0.15" style="">50</text>
<rect x="118.9" y="478.3" width="20.900000000000006" height="9.5" fill="#E3E3E3"/>
<text x="129.35000000000002" y="484.90000000000003" font-size="6.0" fill="#1a1a1a" stroke="#1a1a1a"  text-anchor="middle" stroke-width="0.15" style="">21</text>
<rect x="140.8" y="478.3" width="22.0" height="9.5" fill="#E3E3E3"/>
<text x="151.8" y="484.90000000000003" font-size="6.0" fill="#1a1a1a" stroke="#1a1a1a"  text-anchor="middle" stroke-width="0.15" style="">131.05</text>
<rect x="163.9" y="478.3" width="14.400000000000006" height="9.5" fill="#E3E3E3"/>
<text x="171.10000000000002" y="484.90000000000003" font-size="6.0" fill="#1a1a1a" stroke="#1a1a1a"  text-anchor="middle" stroke-width="0.15" style="">1.6</text>
<rect x="178.9" y="478.3" width="34.69999999999999" height="9.5" fill="#E3E3E3"/>
<text x="196.25" y="484.90000000000003" font-size="6.0" fill="#1a1a1a" stroke="#1a1a1a"  text-anchor="middle" stroke-width="0.15" style="">0.82</text>
<rect x="214.7" y="478.3" width="35.30000000000001" height="9.5" fill="#E3E3E3"/>
<text x="232.35" y="484.90000000000003" font-size="6.0" fill="#1a1a1a" stroke="#1a1a1a"  text-anchor="middle" stroke-width="0.15" style="">3.12</text>
<rect x="251" y="478.3" width="31.69999999999999" height="9.5" fill="#E3E3E3"/>
<text x="266.85" y="484.90000000000003" font-size="6.0" fill="#1a1a1a" stroke="#1a1a1a"  text-anchor="middle" stroke-width="0.15" style="">0.164</text>
<text x="91.2" y="484.90000000000003" font-size="6.0" fill="#1a1a1a" stroke="#1a1a1a"  text-anchor="end" stroke-width="0.05" style="font-style:italic">(21.6,31.7)</text>
<rect x="94.8" y="488.7" width="23.10000000000001" height="9.199999999999989" fill="#F0F0F0"/>
<text x="106.35" y="495.0" font-size="6.0" fill="#1a1a1a" stroke="#1a1a1a"  text-anchor="middle" stroke-width="0.15" style="">51</text>
<rect x="118.9" y="488.7" width="20.900000000000006" height="9.199999999999989" fill="#F0F0F0"/>
<text x="129.35000000000002" y="495.0" font-size="6.0" fill="#1a1a1a" stroke="#1a1a1a"  text-anchor="middle" stroke-width="0.15" style="">32</text>
<rect x="140.8" y="488.7" width="22.0" height="9.199999999999989" fill="#F0F0F0"/>
<text x="151.8" y="495.0" font-size="6.0" fill="#1a1a1a" stroke="#1a1a1a"  text-anchor="middle" stroke-width="0.15" style="">23.51</text>
<rect x="163.9" y="488.7" width="14.400000000000006" height="9.199999999999989" fill="#F0F0F0"/>
<text x="171.10000000000002" y="495.0" font-size="6.0" fill="#1a1a1a" stroke="#1a1a1a"  text-anchor="middle" stroke-width="0.15" style="">3.26</text>
<rect x="178.9" y="488.7" width="34.69999999999999" height="9.199999999999989" fill="#F0F0F0"/>
<text x="196.25" y="495.0" font-size="6.0" fill="#1a1a1a" stroke="#1a1a1a"  text-anchor="middle" stroke-width="0.15" style="">1.76</text>
<rect x="214.7" y="488.7" width="35.30000000000001" height="9.199999999999989" fill="#F0F0F0"/>
<text x="232.35" y="495.0" font-size="6.0" fill="#1a1a1a" stroke="#1a1a1a"  text-anchor="middle" stroke-width="0.15" style="">6.04</text>
<rect x="251" y="488.7" width="31.69999999999999" height="9.199999999999989" fill="#F0F0F0"/>
<text x="266.85" y="495.0" font-size="6.0" fill="#1a1a1a" stroke="#1a1a1a"  text-anchor="middle" stroke-width="0.15" style="">0</text>
<text x="91.2" y="495.0" font-size="6.0" fill="#1a1a1a" stroke="#1a1a1a"  text-anchor="end" stroke-width="0.05" style="font-style:italic">(31.7,100)</text>
<text x="392.1" y="287.6" font-size="6.6" fill="#111" stroke="#111" stroke-width="0.22" text-anchor="start" textLength="56.2" lengthAdjust="spacingAndGlyphs"  style="">Autoencoder (Test)</text>
<polygon points="342.7,296 357,296.3 368.8,298.2 403,299.5 403,300 496.7,300 496.7,319.5 405,319.5 405,317 386,315 375,313 365,310 357,305 350,300" fill="#A50123" fill-opacity="0.5"/>
<polygon points="342.7,296 350,297 360,300 370,303 380,304.5 403,305 405,308 498,308 498,340.9 410,340.9 400,338 390,334 380,330 370,325 360,318 355,313 350,308 345,302" fill="#6DA945" fill-opacity="0.5"/>
<polygon points="342.7,296 346,298 350,300.5 357,304 365,307.5 375,309.5 385,311 400,316.5 405,322 448.9,322 448.9,352 448,364 445.7,359 444.5,353.2 409.9,353.2 398.4,348.6 393.7,345.1 384.5,340.5 377.6,335.9 368.3,330.1 363.7,324.3 356.8,319.7 352.2,312.8 347,306 344,300" fill="#163E7A" fill-opacity="0.45"/>
<path d="M342.7,296 H346.9 V297 H351.5 V299.3 H355 V301.7 H361.3 V304 H363.6 V305.7 H366.5 V307.8 H405 V311.4 H496.2" fill="none" stroke="#B4102E" stroke-width="1.1" />
<path d="M342.7,296 H344.6 V297.6 H348.7 V299.3 H351.5 V301.7 H355 V304.5 H357.3 V307.4 H363.6 V311.5 H373.4 V314.3 H391 V317.6 H415.4 V327.7 H498.5" fill="none" stroke="#5FA83A" stroke-width="1.0" />
<path d="M342.7,296 V298.8 H346.9 V300.5 H350.4 V304 H352.1 V306.3 H353.8 V308.6 H360.8 V310.9 H363.1 V316.1 H367.7 V319.5 H368.3 V321.6 H378.5 V323.6 H383.8 V327 H389.6 V329.9 H393 V332.2 H395.4 V334.7 H407.6 V341.6 H447.7 V352 H464.4 V372" fill="none" stroke="#1E3C82" stroke-width="1.2" />
<rect x="369.35" y="306.8" width="1.3" height="2.4" fill="#B4102E"/>
<rect x="374.35" y="306.8" width="1.3" height="2.4" fill="#B4102E"/>
<rect x="379.35" y="306.8" width="1.3" height="2.4" fill="#B4102E"/>
<rect x="384.35" y="306.8" width="1.3" height="2.4" fill="#B4102E"/>
<rect x="392.35" y="306.8" width="1.3" height="2.4" fill="#B4102E"/>
<rect x="395.35" y="306.8" width="1.3" height="2.4" fill="#B4102E"/>
<rect x="399.35" y="306.8" width="1.3" height="2.4" fill="#B4102E"/>
<rect x="409.35" y="310.2" width="1.3" height="2.4" fill="#B4102E"/>
<rect x="413.35" y="310.2" width="1.3" height="2.4" fill="#B4102E"/>
<rect x="417.35" y="310.2" width="1.3" height="2.4" fill="#B4102E"/>
<rect x="420.35" y="310.2" width="1.3" height="2.4" fill="#B4102E"/>
<rect x="423.35" y="310.2" width="1.3" height="2.4" fill="#B4102E"/>
<rect x="427.35" y="310.2" width="1.3" height="2.4" fill="#B4102E"/>
<rect x="431.35" y="310.2" width="1.3" height="2.4" fill="#B4102E"/>
<rect x="439.35" y="310.2" width="1.3" height="2.4" fill="#B4102E"/>
<rect x="443.35" y="310.2" width="1.3" height="2.4" fill="#B4102E"/>
<rect x="447.35" y="310.2" width="1.3" height="2.4" fill="#B4102E"/>
<rect x="451.35" y="310.2" width="1.3" height="2.4" fill="#B4102E"/>
<rect x="495.55" y="310.2" width="1.3" height="2.4" fill="#B4102E"/>
<rect x="419.35" y="326.5" width="1.3" height="2.4" fill="#5FA83A"/>
<rect x="424.35" y="326.5" width="1.3" height="2.4" fill="#5FA83A"/>
<rect x="429.35" y="326.5" width="1.3" height="2.4" fill="#5FA83A"/>
<rect x="435.35" y="326.5" width="1.3" height="2.4" fill="#5FA83A"/>
<rect x="441.35" y="326.5" width="1.3" height="2.4" fill="#5FA83A"/>
<rect x="447.35" y="326.5" width="1.3" height="2.4" fill="#5FA83A"/>
<rect x="452.35" y="326.5" width="1.3" height="2.4" fill="#5FA83A"/>
<rect x="497.85" y="326.5" width="1.3" height="2.4" fill="#5FA83A"/>
<rect x="411.35" y="340.40000000000003" width="1.3" height="2.4" fill="#1E3C82"/>
<rect x="419.35" y="340.40000000000003" width="1.3" height="2.4" fill="#1E3C82"/>
<rect x="425.35" y="340.40000000000003" width="1.3" height="2.4" fill="#1E3C82"/>
<rect x="441.35" y="340.40000000000003" width="1.3" height="2.4" fill="#1E3C82"/>
<rect x="445.35" y="340.40000000000003" width="1.3" height="2.4" fill="#1E3C82"/>
<rect x="374.35" y="320.8" width="1.3" height="2.4" fill="#1E3C82"/>
<rect x="378.05" y="320.8" width="1.3" height="2.4" fill="#1E3C82"/>
<circle cx="464.4" cy="372" r="1.3" fill="#1E3C82"/><circle cx="447.7" cy="352" r="1.1" fill="#1E3C82"/>
<rect x="454.7" y="293" width="40.30000000000001" height="40.5" fill="#fff"/>
<text x="456.7" y="299.3" font-size="5.6" fill="#222" stroke="#222"  text-anchor="start" stroke-width="0.05" style="">strata</text>
<line x1="456.0" y1="307.4" x2="462.6" y2="307.4" stroke="#B4102E" stroke-width="1.1"/>
<circle cx="459.3" cy="307.4" r="1.9" fill="#B4102E"/>
<text x="466.2" y="309.4" font-size="5.8" fill="#111" stroke="#111"  text-anchor="start" stroke-width="0.1" style="">(0,21.6)</text>
<line x1="456.0" y1="317.3" x2="462.6" y2="317.3" stroke="#5FA83A" stroke-width="1.1"/>
<polygon points="457.3,318.6 461.3,318.6 459.3,315.3" fill="#5FA83A"/>
<text x="466.2" y="319.3" font-size="5.8" fill="#111" stroke="#111"  text-anchor="start" stroke-width="0.1" style="">(21.6,31.7)</text>
<line x1="456.0" y1="327" x2="462.6" y2="327" stroke="#1E3C82" stroke-width="1.1"/>
<rect x="457.40000000000003" y="325.1" width="3.8" height="3.8" fill="#1E3C82"/>
<text x="466.2" y="329.0" font-size="5.8" fill="#111" stroke="#111"  text-anchor="start" stroke-width="0.1" style="">(31.7,100)</text>
<rect x="394.1" y="370.2" width="3.4" height="3.4" fill="#1E3C82"/>
<text x="372.5" y="363.2" font-size="5.7" fill="#222" stroke="#222" stroke-width="0.22" text-anchor="start" textLength="28.2" lengthAdjust="spacingAndGlyphs"  style="">p = 0.0027</text>
<rect x="335" y="292.85" width="170.8" height="83.09999999999997" fill="none" stroke="#000" stroke-width="1.35"/>
<line x1="342.5" y1="375.95" x2="342.5" y2="378.95" stroke="#000" stroke-width="1.0"/>
<text x="342.5" y="388.5" font-size="6.7" fill="#222" stroke="#222" stroke-width="0.22" text-anchor="middle"  style="">0</text>
<line x1="379.301" y1="375.95" x2="379.301" y2="378.95" stroke="#000" stroke-width="1.0"/>
<text x="379.301" y="388.5" font-size="6.7" fill="#222" stroke="#222" stroke-width="0.22" text-anchor="middle"  style="">30</text>
<line x1="416.102" y1="375.95" x2="416.102" y2="378.95" stroke="#000" stroke-width="1.0"/>
<text x="416.102" y="388.5" font-size="6.7" fill="#222" stroke="#222" stroke-width="0.22" text-anchor="middle"  style="">60</text>
<line x1="452.903" y1="375.95" x2="452.903" y2="378.95" stroke="#000" stroke-width="1.0"/>
<text x="452.903" y="388.5" font-size="6.7" fill="#222" stroke="#222" stroke-width="0.22" text-anchor="middle"  style="">90</text>
<line x1="489.70399999999995" y1="375.95" x2="489.70399999999995" y2="378.95" stroke="#000" stroke-width="1.0"/>
<text x="489.70399999999995" y="388.5" font-size="6.7" fill="#222" stroke="#222" stroke-width="0.22" text-anchor="middle"  style="">120</text>
<line x1="331.8" y1="372.3" x2="335" y2="372.3" stroke="#000" stroke-width="1.0"/>
<text x="328.2" y="374.65000000000003" font-size="6.7" fill="#222" stroke="#222" stroke-width="0.22" text-anchor="end"  style="">0.00</text>
<line x1="331.8" y1="353.2" x2="335" y2="353.2" stroke="#000" stroke-width="1.0"/>
<text x="328.2" y="355.55" font-size="6.7" fill="#222" stroke="#222" stroke-width="0.22" text-anchor="end"  style="">0.25</text>
<line x1="331.8" y1="334.1" x2="335" y2="334.1" stroke="#000" stroke-width="1.0"/>
<text x="328.2" y="336.45000000000005" font-size="6.7" fill="#222" stroke="#222" stroke-width="0.22" text-anchor="end"  style="">0.50</text>
<line x1="331.8" y1="315.0" x2="335" y2="315.0" stroke="#000" stroke-width="1.0"/>
<text x="328.2" y="317.35" font-size="6.7" fill="#222" stroke="#222" stroke-width="0.22" text-anchor="end"  style="">0.75</text>
<line x1="331.8" y1="295.9" x2="335" y2="295.9" stroke="#000" stroke-width="1.0"/>
<text x="328.2" y="298.25" font-size="6.7" fill="#222" stroke="#222" stroke-width="0.22" text-anchor="end"  style="">1.00</text>
<text transform="translate(309.0,334.7) rotate(-90)" x="0" y="0" font-size="9.2" fill="#111" stroke="#111" stroke-width="0.55" text-anchor="middle" textLength="69.9" lengthAdjust="spacingAndGlyphs">Survival probability (KM)</text>
<text x="413.3" y="401.4" font-size="8.8" fill="#111" stroke="#111"  text-anchor="start" textLength="13.1" lengthAdjust="spacingAndGlyphs" stroke-width="0.45" style="">Time</text>
<text x="342.7" y="411.6" font-size="6.3" fill="#C8395A" stroke="#C8395A"  text-anchor="middle" stroke-width="0.12" style="">40</text>
<text x="379.501" y="411.6" font-size="6.3" fill="#C8395A" stroke="#C8395A"  text-anchor="middle" stroke-width="0.12" style="">27</text>
<text x="416.30199999999996" y="411.6" font-size="6.3" fill="#C8395A" stroke="#C8395A"  text-anchor="middle" stroke-width="0.12" style="">13</text>
<text x="453.10299999999995" y="411.6" font-size="6.3" fill="#C8395A" stroke="#C8395A"  text-anchor="middle" stroke-width="0.12" style="">4</text>
<text x="489.904" y="411.6" font-size="6.3" fill="#C8395A" stroke="#C8395A"  text-anchor="middle" stroke-width="0.12" style="">1</text>
<text x="342.7" y="421.3" font-size="6.3" fill="#72B552" stroke="#72B552"  text-anchor="middle" stroke-width="0.12" style="">30</text>
<text x="379.501" y="421.3" font-size="6.3" fill="#72B552" stroke="#72B552"  text-anchor="middle" stroke-width="0.12" style="">18</text>
<text x="416.30199999999996" y="421.3" font-size="6.3" fill="#72B552" stroke="#72B552"  text-anchor="middle" stroke-width="0.12" style="">10</text>
<text x="453.10299999999995" y="421.3" font-size="6.3" fill="#72B552" stroke="#72B552"  text-anchor="middle" stroke-width="0.12" style="">1</text>
<text x="489.904" y="421.3" font-size="6.3" fill="#72B552" stroke="#72B552"  text-anchor="middle" stroke-width="0.12" style="">1</text>
<text x="342.7" y="431" font-size="6.3" fill="#44639F" stroke="#44639F"  text-anchor="middle" stroke-width="0.12" style="">30</text>
<text x="379.501" y="431" font-size="6.3" fill="#44639F" stroke="#44639F"  text-anchor="middle" stroke-width="0.12" style="">17</text>
<text x="416.30199999999996" y="431" font-size="6.3" fill="#44639F" stroke="#44639F"  text-anchor="middle" stroke-width="0.12" style="">7</text>
<text x="453.10299999999995" y="431" font-size="6.3" fill="#44639F" stroke="#44639F"  text-anchor="middle" stroke-width="0.12" style="">1</text>
<text x="489.904" y="431" font-size="6.3" fill="#44639F" stroke="#44639F"  text-anchor="middle" stroke-width="0.12" style="">0</text>
<text x="401.2" y="443.5" font-size="8.4" fill="#111" stroke="#111"  text-anchor="start" textLength="39.1" lengthAdjust="spacingAndGlyphs" stroke-width="0.45" style="">Numbers at risk</text>
<rect x="324.3" y="458" width="23.399999999999977" height="9.600000000000023" fill="#D2D2D2"/>
<text x="336.0" y="464.8" font-size="6.0" fill="#1a1a1a" stroke="#1a1a1a"  text-anchor="middle" textLength="18.84" lengthAdjust="spacingAndGlyphs" stroke-width="0.08" style="">records</text>
<rect x="348.9" y="458" width="19.600000000000023" height="9.600000000000023" fill="#D2D2D2"/>
<text x="358.7" y="464.8" font-size="6.0" fill="#1a1a1a" stroke="#1a1a1a"  text-anchor="middle" textLength="16.65" lengthAdjust="spacingAndGlyphs" stroke-width="0.08" style="">events</text>
<rect x="369.7" y="458" width="21.900000000000034" height="9.600000000000023" fill="#D2D2D2"/>
<text x="380.65" y="464.8" font-size="6.0" fill="#1a1a1a" stroke="#1a1a1a"  text-anchor="middle" textLength="18.53" lengthAdjust="spacingAndGlyphs" stroke-width="0.08" style="">median</text>
<rect x="392.7" y="458" width="14.600000000000023" height="9.600000000000023" fill="#D2D2D2"/>
<text x="400.0" y="464.8" font-size="6.0" fill="#1a1a1a" stroke="#1a1a1a"  text-anchor="middle" textLength="8.16" lengthAdjust="spacingAndGlyphs" stroke-width="0.08" style="">RR</text>
<rect x="408.5" y="458" width="34.19999999999999" height="9.600000000000023" fill="#D2D2D2"/>
<text x="425.6" y="464.8" font-size="6.0" fill="#1a1a1a" stroke="#1a1a1a"  text-anchor="middle" textLength="32.82" lengthAdjust="spacingAndGlyphs" stroke-width="0.08" style="">RR−0.95LC1</text>
<rect x="443.9" y="458" width="35.80000000000001" height="9.600000000000023" fill="#D2D2D2"/>
<text x="461.79999999999995" y="464.8" font-size="6.0" fill="#1a1a1a" stroke="#1a1a1a"  text-anchor="middle" textLength="33.76" lengthAdjust="spacingAndGlyphs" stroke-width="0.08" style="">RR−0.95UC1</text>
<rect x="480.8" y="458" width="31.19999999999999" height="9.600000000000023" fill="#D2D2D2"/>
<text x="496.4" y="464.8" font-size="6.0" fill="#1a1a1a" stroke="#1a1a1a"  text-anchor="middle" textLength="31.09" lengthAdjust="spacingAndGlyphs" stroke-width="0.08" style="">pValue.CPH</text>
<rect x="324.3" y="468.4" width="23.399999999999977" height="9.200000000000045" fill="#F0F0F0"/>
<text x="336.0" y="474.70000000000005" font-size="6.0" fill="#1a1a1a" stroke="#1a1a1a"  text-anchor="middle" stroke-width="0.15" style="">40</text>
<rect x="348.9" y="468.4" width="19.600000000000023" height="9.200000000000045" fill="#F0F0F0"/>
<text x="358.7" y="474.70000000000005" font-size="6.0" fill="#1a1a1a" stroke="#1a1a1a"  text-anchor="middle" stroke-width="0.15" style="">7</text>
<rect x="369.7" y="468.4" width="21.900000000000034" height="9.200000000000045" fill="#F0F0F0"/>
<text x="380.65" y="474.70000000000005" font-size="6.0" fill="#1a1a1a" stroke="#1a1a1a"  text-anchor="middle" stroke-width="0.15" style="">NA</text>
<rect x="392.7" y="468.4" width="14.600000000000023" height="9.200000000000045" fill="#F0F0F0"/>
<text x="400.0" y="474.70000000000005" font-size="6.0" fill="#1a1a1a" stroke="#1a1a1a"  text-anchor="middle" stroke-width="0.15" style="">1</text>
<rect x="408.5" y="468.4" width="34.19999999999999" height="9.200000000000045" fill="#F0F0F0"/>
<text x="425.6" y="474.70000000000005" font-size="6.0" fill="#1a1a1a" stroke="#1a1a1a"  text-anchor="middle" stroke-width="0.15" style="">NA</text>
<rect x="443.9" y="468.4" width="35.80000000000001" height="9.200000000000045" fill="#F0F0F0"/>
<text x="461.79999999999995" y="474.70000000000005" font-size="6.0" fill="#1a1a1a" stroke="#1a1a1a"  text-anchor="middle" stroke-width="0.15" style="">NA</text>
<rect x="480.8" y="468.4" width="31.19999999999999" height="9.200000000000045" fill="#F0F0F0"/>
<text x="496.4" y="474.70000000000005" font-size="6.0" fill="#1a1a1a" stroke="#1a1a1a"  text-anchor="middle" stroke-width="0.15" style="">NA</text>
<text x="321.3" y="474.70000000000005" font-size="6.0" fill="#1a1a1a" stroke="#1a1a1a"  text-anchor="end" stroke-width="0.05" style="font-style:italic">(0,21.6)</text>
<rect x="324.3" y="478.3" width="23.399999999999977" height="9.5" fill="#E3E3E3"/>
<text x="336.0" y="484.90000000000003" font-size="6.0" fill="#1a1a1a" stroke="#1a1a1a"  text-anchor="middle" stroke-width="0.15" style="">30</text>
<rect x="348.9" y="478.3" width="19.600000000000023" height="9.5" fill="#E3E3E3"/>
<text x="358.7" y="484.90000000000003" font-size="6.0" fill="#1a1a1a" stroke="#1a1a1a"  text-anchor="middle" stroke-width="0.15" style="">10</text>
<rect x="369.7" y="478.3" width="21.900000000000034" height="9.5" fill="#E3E3E3"/>
<text x="380.65" y="484.90000000000003" font-size="6.0" fill="#1a1a1a" stroke="#1a1a1a"  text-anchor="middle" stroke-width="0.15" style="">NA</text>
<rect x="392.7" y="478.3" width="14.600000000000023" height="9.5" fill="#E3E3E3"/>
<text x="400.0" y="484.90000000000003" font-size="6.0" fill="#1a1a1a" stroke="#1a1a1a"  text-anchor="middle" stroke-width="0.15" style="">2.19</text>
<rect x="408.5" y="478.3" width="34.19999999999999" height="9.5" fill="#E3E3E3"/>
<text x="425.6" y="484.90000000000003" font-size="6.0" fill="#1a1a1a" stroke="#1a1a1a"  text-anchor="middle" stroke-width="0.15" style="">0.83</text>
<rect x="443.9" y="478.3" width="35.80000000000001" height="9.5" fill="#E3E3E3"/>
<text x="461.79999999999995" y="484.90000000000003" font-size="6.0" fill="#1a1a1a" stroke="#1a1a1a"  text-anchor="middle" stroke-width="0.15" style="">5.76</text>
<rect x="480.8" y="478.3" width="31.19999999999999" height="9.5" fill="#E3E3E3"/>
<text x="496.4" y="484.90000000000003" font-size="6.0" fill="#1a1a1a" stroke="#1a1a1a"  text-anchor="middle" stroke-width="0.15" style="">0.113</text>
<text x="321.3" y="484.90000000000003" font-size="6.0" fill="#1a1a1a" stroke="#1a1a1a"  text-anchor="end" stroke-width="0.05" style="font-style:italic">(21.6,31.7)</text>
<rect x="324.3" y="488.7" width="23.399999999999977" height="9.199999999999989" fill="#F0F0F0"/>
<text x="336.0" y="495.0" font-size="6.0" fill="#1a1a1a" stroke="#1a1a1a"  text-anchor="middle" stroke-width="0.15" style="">30</text>
<rect x="348.9" y="488.7" width="19.600000000000023" height="9.199999999999989" fill="#F0F0F0"/>
<text x="358.7" y="495.0" font-size="6.0" fill="#1a1a1a" stroke="#1a1a1a"  text-anchor="middle" stroke-width="0.15" style="">18</text>
<rect x="369.7" y="488.7" width="21.900000000000034" height="9.199999999999989" fill="#F0F0F0"/>
<text x="380.65" y="495.0" font-size="6.0" fill="#1a1a1a" stroke="#1a1a1a"  text-anchor="middle" stroke-width="0.15" style="">43.23</text>
<rect x="392.7" y="488.7" width="14.600000000000023" height="9.199999999999989" fill="#F0F0F0"/>
<text x="400.0" y="495.0" font-size="6.0" fill="#1a1a1a" stroke="#1a1a1a"  text-anchor="middle" stroke-width="0.15" style="">4.11</text>
<rect x="408.5" y="488.7" width="34.19999999999999" height="9.199999999999989" fill="#F0F0F0"/>
<text x="425.6" y="495.0" font-size="6.0" fill="#1a1a1a" stroke="#1a1a1a"  text-anchor="middle" stroke-width="0.15" style="">1.72</text>
<rect x="443.9" y="488.7" width="35.80000000000001" height="9.199999999999989" fill="#F0F0F0"/>
<text x="461.79999999999995" y="495.0" font-size="6.0" fill="#1a1a1a" stroke="#1a1a1a"  text-anchor="middle" stroke-width="0.15" style="">9.86</text>
<rect x="480.8" y="488.7" width="31.19999999999999" height="9.199999999999989" fill="#F0F0F0"/>
<text x="496.4" y="495.0" font-size="6.0" fill="#1a1a1a" stroke="#1a1a1a"  text-anchor="middle" stroke-width="0.15" style="">0.002</text>
<text x="321.3" y="495.0" font-size="6.0" fill="#1a1a1a" stroke="#1a1a1a"  text-anchor="end" stroke-width="0.05" style="font-style:italic">(31.7,100)</text>
<rect x="0.6" y="0.6" width="518.5" height="504" fill="none" stroke="#000" stroke-width="1.3"/>
</svg>
</body></html>
